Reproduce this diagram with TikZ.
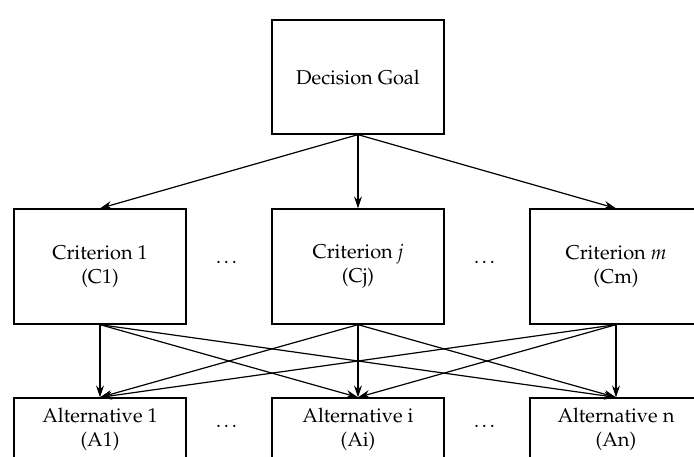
\documentclass[tikz,border=0pt]{standalone}
\usepackage[T1]{fontenc}
\usepackage{mathpazo}
\usetikzlibrary{arrows.meta}
\begin{document}
\begin{tikzpicture}[x=1pt,y=-1pt,
  box/.style={draw, line width=1.3pt, minimum width=172pt, minimum height=115pt, align=center, inner sep=0pt, font=\fontsize{20}{24}\selectfont},
  altbox/.style={box, minimum height=62pt},
  dotsnode/.style={font=\fontsize{20}{24}\selectfont},
  arr/.style={-{Stealth[length=12pt,width=8pt]}, line width=1.2pt}]
\useasboundingbox (0,0) rectangle (694,456);
\node[box, minimum height=114pt] (g) at (358,77) {Decision Goal};
\node[box] (c1) at (100,266.5) {Criterion 1\\(C1)};
\node[box] (cj) at (358,266.5) {Criterion \textit{j}\\(Cj)};
\node[box] (cm) at (616,266.5) {Criterion \textit{m}\\(Cm)};
\node[altbox] (a1) at (100,429) {Alternative 1\\(A1)};
\node[altbox] (ai) at (358,429) {Alternative i\\(Ai)};
\node[altbox] (an) at (616,429) {Alternative n\\(An)};
\node[dotsnode] (d1) at (228,262) {\dots};
\node[dotsnode] (d2) at (486,262) {\dots};
\node[dotsnode] (d3) at (228,426) {\dots};
\node[dotsnode] (d4) at (486,426) {\dots};
\foreach \c in {c1,cj,cm} {
  \draw[arr] (g.south) -- (\c.north);
  \foreach \a in {a1,ai,an} {
    \draw[arr] (\c.south) -- (\a.north);
  }
}
\end{tikzpicture}
\end{document}
